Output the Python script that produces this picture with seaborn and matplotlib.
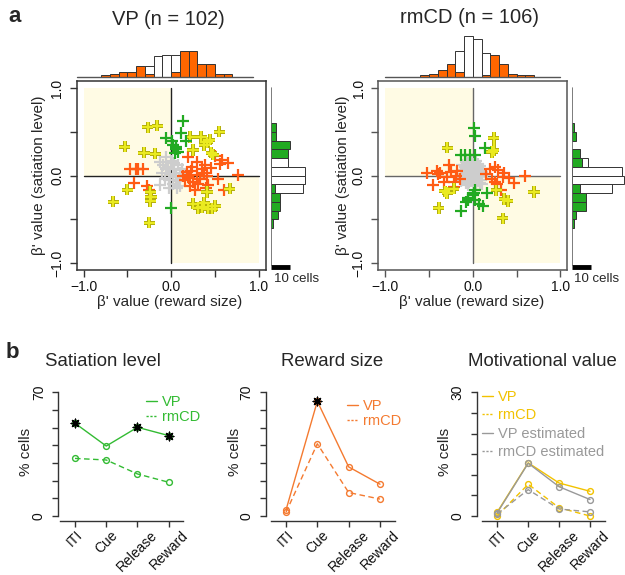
import numpy as np
import matplotlib
matplotlib.use('Agg')
import matplotlib.pyplot as plt
import matplotlib.patheffects as pe
import matplotlib.transforms as mtransforms
from matplotlib.lines import Line2D
import seaborn as sns

sns.set_style('white')
plt.rcParams['font.family'] = ['Liberation Sans', 'DejaVu Sans']

W, H = 625, 575

# ---------------- panel a : beta' values (x = reward size, y = satiation level)
# VP
vp_gray_x = [-0.13, -0.06, -0.04, -0.13, -0.02, -0.06, -0.09, 0.00, 0.03, 0.08, 0.10, 0.05,
             -0.01, 0.02, 0.08, 0.10, 0.15, -0.10, -0.03, 0.06, 0.12, -0.07, 0.03, 0.07]
vp_gray_y = [0.15, 0.21, 0.10, -0.11, -0.05, 0.07, 0.12, 0.17, 0.08, 0.12, 0.03, -0.02,
             0.02, -0.10, -0.06, -0.12, 0.02, 0.03, -0.14, 0.00, 0.07, -0.04, 0.14, -0.14]
vp_orange_x = [-0.47, -0.40, -0.32, -0.43, -0.28, -0.25, -0.38,
               0.19, 0.29, 0.39, 0.50, 0.58, 0.65, 0.56, 0.76, 0.53, 0.60, 0.23, 0.29, 0.37,
               0.41, 0.20, 0.25, 0.31, 0.42, 0.27, 0.40, 0.24, 0.16, 0.13, 0.18, 0.33, 0.22,
               0.35, 0.45]
vp_orange_y = [0.07, 0.07, 0.07, -0.09, -0.12, -0.17, 0.07,
               0.21, 0.16, 0.12, 0.22, 0.18, 0.14, 0.13, 0.01, -0.04, -0.16, 0.05, 0.01, 0.03,
               0.00, -0.03, -0.07, -0.10, -0.11, -0.16, -0.14, 0.10, -0.05, 0.00, 0.04, -0.04,
               -0.12, 0.08, 0.09]
vp_yellow_x = [-0.27, -0.16, -0.53, -0.31, -0.18, -0.50, -0.24, -0.23, -0.24, -0.66, -0.25,
               0.22, 0.34, 0.44, 0.55, 0.38, 0.41, 0.25, 0.48, 0.46,
               0.67, 0.41, 0.25, 0.31, 0.38, 0.42, 0.50, 0.47, 0.35]
vp_yellow_y = [0.55, 0.57, 0.33, 0.26, 0.25, -0.16, -0.19, -0.24, -0.29, -0.30, -0.54,
               0.44, 0.44, 0.41, 0.50, 0.35, 0.38, 0.29, 0.24, 0.26,
               -0.15, -0.19, -0.32, -0.37, -0.31, -0.38, -0.35, -0.38, -0.36]
vp_green_x = [0.14, 0.11, 0.17, 0.01, -0.06, 0.06, 0.04, 0.08, 0.02, 0.00, 0.06]
vp_green_y = [0.62, 0.49, 0.40, 0.39, 0.43, 0.33, 0.26, 0.27, 0.35, -0.37, 0.30]

# rmCD
cd_gray_x = [-0.12, -0.08, -0.04, 0.00, 0.04, 0.08, -0.10, -0.06, -0.02, 0.02, 0.06, 0.10,
             -0.14, -0.09, -0.05, -0.01, 0.03, 0.07, 0.11, -0.11, -0.07, -0.03, 0.01, 0.05,
             0.09, -0.08, -0.04, 0.00, 0.04, 0.08, -0.06, -0.02, 0.02, 0.06, -0.13, 0.12,
             -0.05, 0.03, -0.09, 0.10, 0.00, 0.05, -0.03, 0.07]
cd_gray_y = [0.12, 0.15, 0.10, 0.13, 0.17, 0.11, 0.06, 0.08, 0.05, 0.09, 0.07, 0.04,
             0.02, 0.01, 0.03, 0.00, 0.02, 0.01, 0.00, -0.03, -0.02, -0.04, -0.01, -0.03,
             -0.05, -0.08, -0.07, -0.06, -0.09, -0.08, 0.14, 0.18, 0.16, 0.13, -0.06, 0.08,
             -0.11, -0.12, 0.10, -0.10, 0.06, 0.03, 0.01, 0.05]
cd_orange_x = [-0.52, -0.41, -0.37, -0.27, -0.46, -0.33, -0.21, -0.18, -0.19, -0.22, -0.40,
               0.20, 0.25, 0.29, 0.60, 0.41, 0.47, 0.34, 0.25, 0.32, 0.22, 0.15, -0.15, -0.25,
               0.28, -0.30, 0.36]
cd_orange_y = [0.03, 0.05, 0.03, 0.12, -0.11, -0.07, -0.07, 0.05, 0.00, -0.13, 0.02,
               0.07, 0.10, 0.06, -0.01, -0.03, -0.09, -0.02, -0.07, -0.16, -0.04, 0.02, -0.04,
               0.04, -0.10, -0.02, 0.03]
cd_yellow_x = [-0.29, 0.24, 0.24, 0.22, -0.32, -0.29, -0.22, -0.39, 0.27, 0.36, 0.40, 0.70, 0.34]
cd_yellow_y = [0.32, 0.43, 0.29, 0.27, -0.18, -0.20, -0.15, -0.37, -0.17, -0.27, -0.29, -0.19, -0.49]
cd_green_x = [0.01, 0.03, 0.14, -0.14, -0.09, -0.03, 0.02, 0.03, 0.01, 0.16, -0.05, 0.03,
              0.07, 0.12, -0.13, -0.05, 0.00, -0.08]
cd_green_y = [0.54, 0.45, 0.31, 0.23, 0.23, 0.23, 0.24, -0.16, -0.20, -0.20, -0.28, -0.28,
              -0.32, -0.35, -0.40, -0.26, -0.22, -0.30]

# marginal histograms (counts per 0.1 bin; sig = significant, ns = not significant)
vp_rew_start = -0.8
vp_rew_sig = [1, 2, 3, 3, 6, 2, 0, 0, 3, 14, 14, 7, 7, 2, 2]
vp_rew_ns = [0, 0, 0, 0, 0, 4, 11, 12, 9, 0, 0, 0, 0, 0, 0]
vp_sat_start = -0.6
vp_sat_sig = [1, 4, 5, 5, 2, 0, 0, 0, 9, 10, 3, 3]
vp_sat_ns = [0, 0, 0, 0, 15, 18, 18, 9, 0, 0, 0, 0]
cd_rew_start = -0.6
cd_rew_sig = [1, 2, 4, 7, 3, 0, 0, 1, 12, 7, 2, 1, 1]
cd_rew_ns = [0, 0, 0, 0, 11, 22, 20, 12, 0, 0, 0, 0, 0]
cd_sat_start = -0.6
cd_sat_sig = [1, 2, 7, 7, 4, 0, 0, 5, 4, 0, 2, 1]
cd_sat_ns = [0, 0, 0, 0, 17, 27, 26, 3, 0, 0, 0, 0]

# ---------------- panel b : % cells per task epoch
categories = ['ITI', 'Cue', 'Release', 'Reward']
sat_vp = [52.5, 39.6, 50.2, 45.5]
sat_rmcd = [32.6, 31.7, 23.8, 19.1]
sat_vp_star = [True, False, True, True]
rew_vp = [3.4, 64.9, 27.8, 18.0]
rew_rmcd = [2.1, 40.9, 13.3, 9.6]
rew_vp_star = [False, True, False, False]
mot_vp = [1.0, 12.9, 8.0, 6.0]
mot_rmcd = [0.1, 7.7, 2.0, 0.0]
mot_vp_est = [0.8, 12.8, 7.1, 4.0]
mot_rmcd_est = [0.5, 6.4, 1.7, 1.0]

ORANGE = '#ff5b14'
HIST_OR = '#ff6600'
YELLOW = '#eaea20'
GREEN = '#22aa22'
GRAY = '#cdcdcd'
SHADE = '#fffbe4'
CELL_PX = 1.9  # pixels per cell in the marginal histograms

fig = plt.figure(figsize=(W / 100, H / 100), dpi=100)


def px_axes(x0, y0, x1, y1):
    return fig.add_axes([x0 / W, 1 - y1 / H, (x1 - x0) / W, (y1 - y0) / H])


def ftext(x, y, s, **kw):
    fig.text(x / W, 1 - y / H, s, **kw)


def scatter_panel(x0, pts, frame_col, line_col, top, side, top_base, side_base):
    x1 = x0 + 189
    ax = px_axes(x0, 81, x1, 270)
    ax.set_xlim(-1.08, 1.08)
    ax.set_ylim(-1.08, 1.08)
    ax.fill_between([-1, 0], 0, 1, color=SHADE, lw=0, zorder=0)
    ax.fill_between([0, 1], -1, 0, color=SHADE, lw=0, zorder=0)
    ax.plot([0, 0], [-1, 1], color=line_col, lw=1, zorder=1)
    ax.plot([-1, 1], [0, 0], color=line_col, lw=1, zorder=1)
    for (xs, ys), col in zip(pts, [GRAY, ORANGE, YELLOW, GREEN]):
        sns.scatterplot(x=xs, y=ys, ax=ax, marker='+', s=66, color=col,
                        linewidth=1.6, zorder=3)
        if col == YELLOW:
            ax.collections[-1].set_path_effects(
                [pe.Stroke(linewidth=2.8, foreground='#aaa400'), pe.Normal()])
    ticks = [-1, -0.5, 0, 0.5, 1]
    labs = ['\u22121.0', '', '0.0', '', '1.0']
    ax.set_xticks(ticks)
    ax.set_xticklabels(labs)
    ax.set_yticks(ticks)
    ax.set_yticklabels(labs, rotation=90, va='center')
    ax.tick_params(axis='x', bottom=True, direction='out', length=5, width=1,
                   color=frame_col, labelsize=10, pad=2, labelcolor='#111')
    ax.tick_params(axis='y', left=True, direction='out', length=5, width=1,
                   color=frame_col, labelsize=10, pad=4, labelcolor='#111')
    for sp in ax.spines.values():
        sp.set_color(frame_col)
        sp.set_linewidth(1.1)
    ax.set_xlabel('')
    ax.set_ylabel('')

    # top histogram (reward size)
    start, sig, ns = top
    axt = px_axes(x0, 28, x1, 77.3)
    axt.set_xlim(-1.08, 1.08)
    axt.set_ylim(0, (77.3 - 28) / CELL_PX)
    edges = start + 0.1 * np.arange(len(sig))
    sig = np.array(sig)
    ns = np.array(ns)
    m = sig > 0
    axt.bar(edges[m], sig[m], width=0.1, align='edge', color=HIST_OR,
            edgecolor='#333', lw=0.7)
    m = ns > 0
    axt.bar(edges[m], ns[m], bottom=sig[m], width=0.1, align='edge', color='white',
            edgecolor='#333', lw=0.7)
    axt.plot(top_base, [0, 0], color='#555', lw=1, clip_on=False)
    axt.axis('off')

    # side histogram (satiation level)
    start, sig, ns = side
    axs = px_axes(side_base, 81, W, 270)
    axs.set_ylim(-1.08, 1.08)
    axs.set_xlim(0, (W - side_base) / CELL_PX)
    edges = start + 0.1 * np.arange(len(sig))
    sig = np.array(sig)
    ns = np.array(ns)
    m = sig > 0
    axs.barh(edges[m], sig[m], height=0.1, align='edge', color=GREEN,
             edgecolor='#333', lw=0.7)
    m = ns > 0
    axs.barh(edges[m], ns[m], left=sig[m], height=0.1, align='edge', color='white',
             edgecolor='#333', lw=0.7)
    axs.plot([0, 0], [-1.02, 1.0], color='#666', lw=1.2)
    axs.plot([0, 10], [-1.05, -1.05], color='black', lw=3.5, solid_capstyle='butt',
             clip_on=False)
    axs.axis('off')
    return ax


scatter_panel(76.7,
              [(vp_gray_x, vp_gray_y), (vp_orange_x, vp_orange_y),
               (vp_yellow_x, vp_yellow_y), (vp_green_x, vp_green_y)],
              '#333', '#222',
              (vp_rew_start, vp_rew_sig, vp_rew_ns),
              (vp_sat_start, vp_sat_sig, vp_sat_ns),
              [-1.08, 0.93], 270.7)
scatter_panel(378.3,
              [(cd_gray_x, cd_gray_y), (cd_orange_x, cd_orange_y),
               (cd_yellow_x, cd_yellow_y), (cd_green_x, cd_green_y)],
              '#555', '#666',
              (cd_rew_start, cd_rew_sig, cd_rew_ns),
              (cd_sat_start, cd_sat_sig, cd_sat_ns),
              [-1.0, 1.0], 572.3)

ftext(15, 17, 'a', fontsize=16, fontweight='bold', ha='center', va='center')
ftext(168.5, 19.5, 'VP (n = 102)', fontsize=14.5, ha='center', va='center')
ftext(470, 17.5, 'rmCD (n = 106)', fontsize=14.5, ha='center', va='center')
for xc, yc in [(170, 302), (472, 302)]:
    ftext(xc, yc, "\u03b2' value (reward size)", fontsize=11, ha='center', va='center')
for xc in [39, 343]:
    ftext(xc, 175.7, "\u03b2' value (satiation level)", fontsize=11, ha='center',
          va='center', rotation=90)
for xc in [273.5, 573.5]:
    ftext(xc, 279, '10 cells', fontsize=9.5, ha='left', va='center')

# ---------------- panel b
pos = np.arange(len(categories))
shift_left = mtransforms.ScaledTranslation(-0.045, 0, fig.dpi_scale_trans)


def line_panel(x0, x1, xlim, xspine, ymax, ystep, series, legend_xy, lab_spacing):
    ax = px_axes(x0, 392, x1, 521)
    for vals, col, dashed, star, name, tcol in series:
        ls = (0, (4, 2.5)) if dashed else '-'
        sns.lineplot(x=pos, y=vals, ax=ax, color=col, lw=1, linestyle=ls, marker='o',
                     markersize=4.2, markerfacecolor='none', markeredgecolor=col,
                     markeredgewidth=1)
        if star is not None:
            st = np.array(star)
            sns.scatterplot(x=pos[st], y=np.array(vals)[st], ax=ax, marker=(8, 2, 0),
                            s=38, color='black', linewidth=1, zorder=5)
    px_per = 124.3 / ymax
    ax.set_ylim(-5 / px_per, ymax + 0.3 / px_per)
    ax.set_xlim(*xlim)
    ax.spines['top'].set_visible(False)
    ax.spines['right'].set_visible(False)
    for sp in ['left', 'bottom']:
        ax.spines[sp].set_color('#333')
        ax.spines[sp].set_linewidth(1)
    ax.spines['left'].set_bounds(0, ymax)
    ax.spines['bottom'].set_bounds(xspine, xlim[1])
    yt = np.arange(0, ymax + 0.1, ystep)
    ax.set_yticks(yt)
    ax.set_yticklabels([('%d' % v if v in (0, ymax) else '') for v in yt], rotation=90,
                       va='center')
    ax.set_xticks(pos)
    ax.set_xticklabels(categories, rotation=45, ha='center', va='top')
    for lab in ax.get_xticklabels():
        lab.set_transform(lab.get_transform() + shift_left)
    ax.tick_params(axis='both', bottom=True, left=True, direction='out', length=4,
                   width=1, color='#333', labelsize=10, labelcolor='#111')
    ax.tick_params(axis='y', pad=5)
    ax.tick_params(axis='x', pad=1)
    ax.set_xlabel('')
    ax.set_ylabel('')
    handles = [Line2D([], [], color=s[1], lw=1, ls=(0, (1.6, 1.2)) if s[2] else '-')
               for s in series]
    ax.legend(handles, [s[4] for s in series], loc='upper left',
              bbox_to_anchor=(legend_xy[0] / W, 1 - legend_xy[1] / H),
              bbox_transform=fig.transFigure, frameon=False, fontsize=10.5,
              handlelength=0.75, handletextpad=0.35, labelspacing=lab_spacing,
              borderpad=0, borderaxespad=0, labelcolor=[s[5] for s in series])
    return ax


G2 = '#33bb33'
O2 = '#f47a30'
Y2 = '#f2c200'
GR2 = '#999999'
line_panel(58.3, 182.7, (-0.535, 3.448), -0.48, 70, 10,
           [(sat_vp, G2, False, sat_vp_star, 'VP', G2),
            (sat_rmcd, G2, True, None, 'rmCD', G2)], (146, 395), 0.1)
line_panel(266, 395, (-0.638, 3.479), -0.479, 70, 10,
           [(rew_vp, O2, False, rew_vp_star, 'VP', O2),
            (rew_rmcd, O2, True, None, 'rmCD', O2)], (347, 399), 0.1)
line_panel(476.7, 605, (-0.667, 3.485), -0.505, 30, 5,
           [(mot_vp, Y2, False, None, 'VP', Y2),
            (mot_rmcd, Y2, True, None, 'rmCD', Y2),
            (mot_vp_est, GR2, False, None, 'VP estimated', GR2),
            (mot_rmcd_est, GR2, True, None, 'rmCD estimated', GR2)], (482, 390), 0.3)

ftext(12, 352, 'b', fontsize=16, fontweight='bold', ha='center', va='center')
ftext(103, 362, 'Satiation level', fontsize=13.4, ha='center', va='center')
ftext(332.5, 362, 'Reward size', fontsize=13.4, ha='center', va='center')
ftext(542.5, 362, 'Motivational value', fontsize=13.4, ha='center', va='center')
for xc in [26, 235, 445]:
    ftext(xc, 452, '% cells', fontsize=11, ha='center', va='center', rotation=90)

fig.savefig('out.png', dpi=100, facecolor='white')
